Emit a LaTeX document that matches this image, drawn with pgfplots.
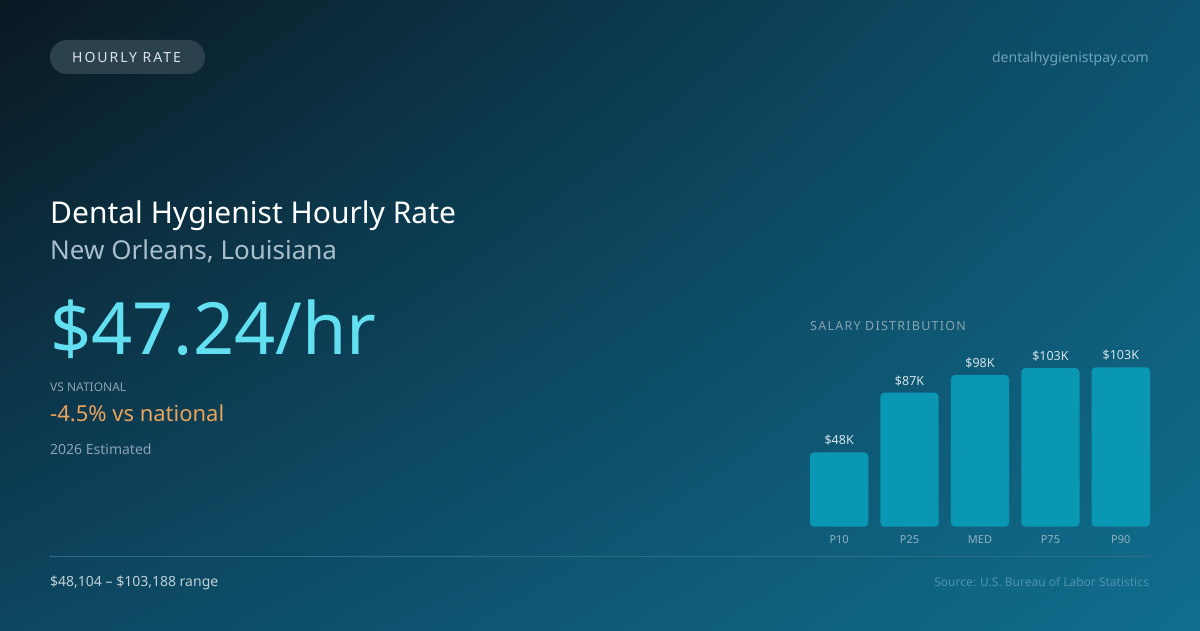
\documentclass[border=0pt]{standalone}
\usepackage{pgfplots}
\pgfplotsset{compat=1.18}
\usetikzlibrary{shadings}
\usepackage{fontspec}
\setmainfont{Noto Sans}

\definecolor{bgtl}{HTML}{0A1822}
\definecolor{bgtr}{HTML}{0D5470}
\definecolor{bgbl}{HTML}{0D4660}
\definecolor{bgbr}{HTML}{106E8E}
\definecolor{barfill}{HTML}{0A97B4}
\definecolor{bignum}{HTML}{62E0F2}
\definecolor{orangetxt}{HTML}{E8A25C}
\definecolor{badgefill}{HTML}{2C414E}
\definecolor{badgetxt}{HTML}{DCE4EA}
\definecolor{subtxt}{HTML}{A8BECA}
\definecolor{mutetxt}{HTML}{8AA3B1}
\definecolor{sitetxt}{HTML}{6FA3BA}
\definecolor{srctxt}{HTML}{4F93AE}
\definecolor{rangetxt}{HTML}{BFD0D8}
\definecolor{rulecol}{HTML}{2B6F86}
\definecolor{barlbl}{HTML}{D3E3EA}
\definecolor{ticktxt}{HTML}{8FB3C2}

\newcommand{\fs}[1]{\fontsize{#1}{#1}\selectfont}

\begin{document}
\begin{tikzpicture}[x=1pt,y=1pt]
  % background (y measured from the bottom: 630 - pixel row)
  \shade[upper left=bgtl, upper right=bgtr, lower left=bgbl, lower right=bgbr]
    (0,0) rectangle (1200,630);

  % badge
  \fill[badgefill, rounded corners=17pt] (50,556) rectangle (205,590);
  \node[anchor=center, text=badgetxt, inner sep=0pt]
    at (126.5,573) {\fs{14}\addfontfeatures{LetterSpace=14}HOURLY RATE};

  \node[anchor=base east, text=sitetxt, inner sep=0pt]
    at (1149,567) {\fs{14}dentalhygienistpay.com};

  % headline block
  \node[anchor=base west, text=white, inner sep=0pt]
    at (50,406) {\fs{30}Dental Hygienist Hourly Rate};
  \node[anchor=base west, text=subtxt, inner sep=0pt]
    at (50,370) {\fs{26}New Orleans, Louisiana};
  \node[anchor=base west, text=bignum, inner sep=0pt]
    at (50,275) {\fs{72}\$47.24/hr};
  \node[anchor=base west, text=mutetxt, inner sep=0pt]
    at (50,238.3) {\fs{12}VS NATIONAL};
  \node[anchor=base west, text=orangetxt, inner sep=0pt]
    at (50,208.3) {\fs{22}-4.5\% vs national};
  \node[anchor=base west, text=mutetxt, inner sep=0pt]
    at (50,175.7) {\fs{14}2026 Estimated};

  % footer
  \draw[rulecol, line width=1pt] (50,73.3) -- (1150,73.3);
  \node[anchor=base west, text=rangetxt, inner sep=0pt]
    at (50,43.3) {\fs{14}\$48,104 – \$103,188 range};
  \node[anchor=base east, text=srctxt, inner sep=0pt]
    at (1149,43.3) {\fs{12}Source: U.S. Bureau of Labor Statistics};

  % chart
  \node[anchor=base west, text=mutetxt, inner sep=0pt]
    at (810,299.3) {\fs{12.5}\addfontfeatures{LetterSpace=10}SALARY DISTRIBUTION};

  \begin{axis}[
      at={(810pt,103.3pt)}, anchor=south west,
      scale only axis,
      width=340pt, height=159.4pt,
      xmin=-0.414, xmax=4.414,
      ymin=0, ymax=103188,
      axis line style={draw=none},
      major tick length=0pt,
      ytick=\empty,
      xtick=data,
      xticklabels={P10,P25,MED,P75,P90},
      xticklabel style={font=\fs{11}, text=ticktxt, anchor=base, yshift=-16.5pt},
      clip=false,
      ybar, bar width=58.3pt,
      nodes near coords,
      point meta=explicit symbolic,
      every node near coord/.append style={font=\fs{12.5}, text=barlbl,
        anchor=base, yshift=7.5pt},
    ]
    \addplot[fill=barfill, draw=none, rounded corners=4pt] coordinates {
      (0,48104)  [\$48K]
      (1,86750)  [\$87K]
      (2,98200)  [\$98K]
      (3,102600) [\$103K]
      (4,103188) [\$103K]
    };
  \end{axis}
\end{tikzpicture}
\end{document}
